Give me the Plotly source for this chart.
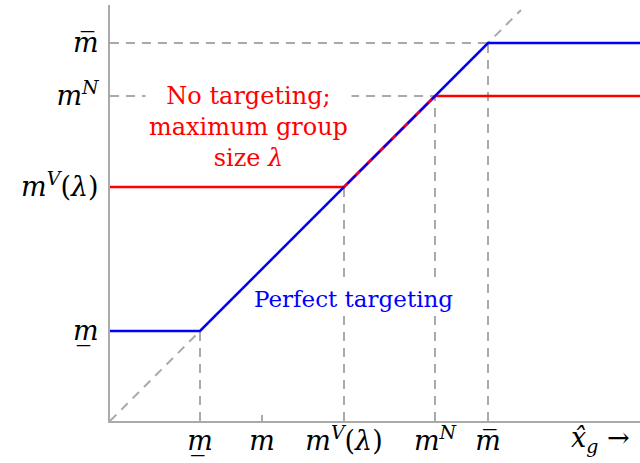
import plotly.graph_objects as go

# Key levels (data units)
m_low = 90
m_mid = 152
m_V = 234
m_N = 325
m_high = 378
x_max = 530
y_max = 416
diag_end = 411

lab_low = "<i>m\u0332</i>"
lab_mid = "<i>m</i>"
lab_V = "<i>m</i><sup><i>V</i></sup>(<i>λ</i>)"
lab_N = "<i>m</i><sup><i>N</i></sup>"
lab_high = "<i>m\u0305</i>"

x_tickvals = [m_low, m_mid, m_V, m_N, m_high]
x_ticktext = [lab_low, lab_mid, lab_V, lab_N, lab_high]
y_tickvals = [m_low, m_V, m_N, m_high]
y_ticktext = [lab_low, lab_V, lab_N, lab_high]

red_x = [0, m_V, m_N, x_max]
red_y = [m_V, m_V, m_N, m_N]
blue_x = [0, m_low, m_high, x_max]
blue_y = [m_low, m_low, m_high, m_high]

GRAY = "#aaaaaa"
FONT = "DejaVu Serif"
dash = "9px,7px"

fig = go.Figure()

def gline(xs, ys):
    fig.add_trace(go.Scatter(x=xs, y=ys, mode="lines",
                             line=dict(color=GRAY, width=2, dash=dash),
                             hoverinfo="skip", showlegend=False))

# diagonal 45-degree line
gline([0, diag_end], [0, diag_end])
# horizontal guides
gline([0, m_high], [m_high, m_high])
gline([0, m_N], [m_N, m_N])
# vertical guides
for v in [m_low, m_V, m_N, m_high]:
    gline([v, v], [0, v])

fig.add_trace(go.Scatter(x=red_x, y=red_y, mode="lines",
                         line=dict(color="#ff0000", width=2.5),
                         hoverinfo="skip", showlegend=False))
fig.add_trace(go.Scatter(x=blue_x, y=blue_y, mode="lines",
                         line=dict(color="#0000ff", width=2.5),
                         hoverinfo="skip", showlegend=False))
# red dashes visible on the shared diagonal
fig.add_trace(go.Scatter(x=[m_V, m_N], y=[m_V, m_N], mode="lines",
                         line=dict(color="#ff0000", width=2, dash="5px,12px"),
                         hoverinfo="skip", showlegend=False))

fig.add_annotation(x=138, y=294, xref="x", yref="y",
                   text="No targeting;<br>maximum group<br>size <i>λ</i>",
                   showarrow=False, font=dict(family=FONT, size=24, color="#ff0000"),
                   bgcolor="white", borderpad=3)
fig.add_annotation(x=243, y=122, xref="x", yref="y",
                   text="Perfect targeting",
                   showarrow=False, font=dict(family=FONT, size=23, color="#0000ff"),
                   bgcolor="white", borderpad=3)
fig.add_annotation(x=490, y=-0.045, xref="x", yref="paper",
                   text="<i>x\u0302</i><sub><i>g</i></sub> →",
                   showarrow=False, font=dict(family=FONT, size=27, color="black"),
                   yanchor="middle")

fig.update_layout(
    width=640, height=463,
    margin=dict(l=110, r=0, t=5, b=42),
    plot_bgcolor="white", paper_bgcolor="white",
    showlegend=False,
    font=dict(family=FONT, size=27, color="black"),
    xaxis=dict(range=[0, x_max], showgrid=False, zeroline=False,
               showline=True, linecolor=GRAY, linewidth=2, automargin=False,
               tickvals=x_tickvals, ticktext=x_ticktext,
               ticks="inside", ticklen=6, tickcolor=GRAY, tickwidth=1.5,
               ticklabelstandoff=-5),
    yaxis=dict(range=[0, y_max], showgrid=False, zeroline=False,
               showline=True, linecolor=GRAY, linewidth=2, automargin=False,
               tickvals=y_tickvals, ticktext=y_ticktext,
               ticks="", ticklabelstandoff=4),
)

fig.write_html("out.html", post_script="document.body.style.margin='0';",
               config={"displayModeBar": False})
